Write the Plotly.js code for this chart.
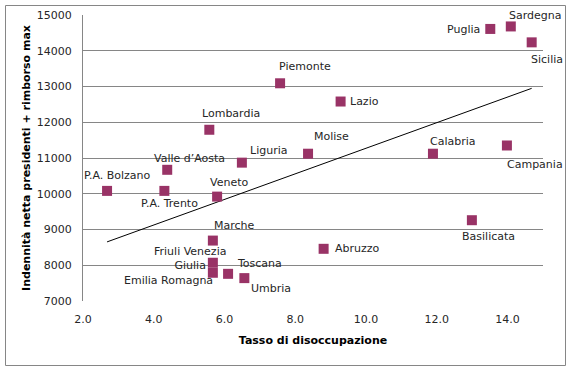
<!DOCTYPE html>
<html>
<head>
<meta charset="utf-8">
<script src="https://cdn.plot.ly/plotly-3.0.1.min.js"></script>
<style>html,body{margin:0;padding:0;background:#fff;}#chart{width:568px;height:370px;}</style>
</head>
<body>
<div id="chart"></div>
<script>
// Data
var regions = ["P.A. Bolzano","P.A. Trento","Valle d\u2019Aosta","Veneto","Marche","Friuli Venezia<br>Giulia","Emilia Romagna","Toscana","Umbria","Lombardia","Liguria","Piemonte","Lazio","Molise","Abruzzo","Calabria","Campania","Basilicata","Puglia","Sardegna","Sicilia"];
var disoccupazione = [2.68,4.30,4.38,5.79,5.67,5.67,5.67,6.10,6.56,5.57,6.49,7.57,9.28,8.36,8.80,11.89,13.98,12.99,13.51,14.09,14.68];
var indennita = [10080,10080,10670,9920,8690,8070,7790,7760,7640,11790,10870,13090,12580,11120,8460,11120,11350,9260,14610,14680,14235];
// label offsets (pixels) relative to each marker
var labelDx = [10,5,22,12,22,-23,-44,31,27,22,27,25,24,23,34,20,28,17,-27,25,15];
var labelDy = [15,-13,11,14,15,4,-8,10,-10,16,12,17,0,17,0,12,-19,-16,-1,11,-17];

// linear trend (least squares)
var n = disoccupazione.length, sx=0, sy=0, sxx=0, sxy=0;
for (var i=0;i<n;i++){sx+=disoccupazione[i];sy+=indennita[i];sxx+=disoccupazione[i]*disoccupazione[i];sxy+=disoccupazione[i]*indennita[i];}
var slope=(n*sxy-sx*sy)/(n*sxx-sx*sx), icpt=(sy-slope*sx)/n;
var xmin=Math.min.apply(null,disoccupazione), xmax=Math.max.apply(null,disoccupazione);
var trendX=[xmin,xmax], trendY=[icpt+slope*xmin, icpt+slope*xmax];

var font = "DejaVu Sans, Verdana, sans-serif";
var annotations = regions.map(function(r,i){
  return {x:disoccupazione[i], y:indennita[i], xref:'x', yref:'y', text:r, showarrow:false,
    xshift:labelDx[i], yshift:labelDy[i], font:{family:font,size:11,color:'#262626'}};
});

var L=83, R=543, T=15, B=301, W=R-L, H=B-T;
function px(x){return (x-L)/W;} function py(y){return (B-y)/H;}

var data = [
  {x:trendX, y:trendY, mode:'lines', line:{color:'#000',width:1}, hoverinfo:'skip', showlegend:false},
  {x:disoccupazione, y:indennita, mode:'markers', marker:{symbol:'square', size:10, color:'#993366'}, showlegend:false}
];
var layout = {
  width:568, height:370,
  margin:{l:L, r:568-R, t:T, b:370-B},
  paper_bgcolor:'#fff', plot_bgcolor:'#fff',
  xaxis:{range:[2,15], dtick:2, tick0:2, tickformat:'.1f', showgrid:false, zeroline:false, showline:false, ticks:'',
    tickfont:{family:font,size:11,color:'#262626'}, ticklabelstandoff:10,
    title:{text:'Tasso di disoccupazione', font:{family:font,size:11,color:'#000',weight:'bold'}, standoff:11}},
  yaxis:{range:[7000,15000], dtick:1000, tickformat:'d', showgrid:true, gridcolor:'#868686', gridwidth:1, zeroline:false,
    showline:true, linecolor:'#868686', linewidth:1, ticks:'',
    tickfont:{family:font,size:11,color:'#262626'}, ticklabelstandoff:8,
    title:{text:'Indennit\u00e0 netta presidenti + rimborso max', font:{family:font,size:11,color:'#000',weight:'bold'}, standoff:3}},
  annotations:annotations,
  shapes:[{type:'rect', xref:'paper', yref:'paper', x0:px(5.5), x1:px(565.5), y0:py(365.5), y1:py(5.5), line:{color:'#868686',width:1}, fillcolor:'rgba(0,0,0,0)', layer:'below'}]
};
Plotly.newPlot('chart', data, layout, {staticPlot:true, displayModeBar:false});
</script>
</body>
</html>
